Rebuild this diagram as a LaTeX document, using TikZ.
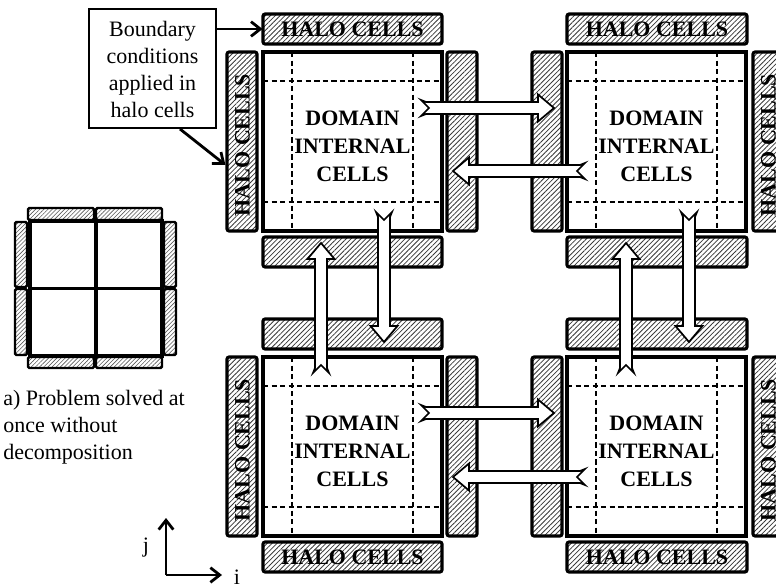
\documentclass[tikz,border=0pt]{standalone}
\usepackage{fontspec}
\setmainfont{Liberation Serif}
\usetikzlibrary{patterns.meta,arrows.meta,fit,calc}

\newcommand{\hblk}[4]{% tail, tip, cy, sign
  \draw[blk] (#1,{#3-8}) -- ({#1+(#4)*5},{#3-6}) -- ({#2-(#4)*16},{#3-6}) -- ({#2-(#4)*16},{#3-13.5}) -- (#2,#3)
     -- ({#2-(#4)*16},{#3+13.5}) -- ({#2-(#4)*16},{#3+6}) -- ({#1+(#4)*5},{#3+6}) -- (#1,{#3+8}) -- ({#1+(#4)*8},#3) -- cycle;}
\newcommand{\vblk}[4]{% tail, tip, cx, sign
  \draw[blk] ({#3-8},#1) -- ({#3-6},{#1+(#4)*5}) -- ({#3-6},{#2-(#4)*16}) -- ({#3-13.5},{#2-(#4)*16}) -- (#3,#2)
     -- ({#3+13.5},{#2-(#4)*16}) -- ({#3+6},{#2-(#4)*16}) -- ({#3+6},{#1+(#4)*5}) -- ({#3+8},#1) -- (#3,{#1+(#4)*8}) -- cycle;}
\newcommand{\domblk}[3]{% name, x, y
  \node[dombox, fit={(#2,#3) ({#2+179},{#3+179})}] (#1) {};
  \draw[dashline] ({#2+29},#3) -- ({#2+29},{#3+179});
  \draw[dashline] ({#2+150},#3) -- ({#2+150},{#3+179});
  \draw[dashline] (#2,{#3+29}) -- ({#2+179},{#3+29});
  \draw[dashline] (#2,{#3+150}) -- ({#2+179},{#3+150});
  \node[dombox, fit={(#2,#3) ({#2+179},{#3+179})}] {};
  \node[domtext] (#1t) at ({#2+89.5},{#3+94}) {DOMAIN\\INTERNAL\\CELLS};}

\begin{document}
\begin{tikzpicture}[x=0.75pt,y=-0.75pt,
  halobox/.style={draw, line width=2.3pt, rounded corners=1.5pt, inner sep=0pt,
    pattern={Lines[angle=45,distance=2.6pt,line width=0.6pt]}, pattern color=black!78},
  smallhalo/.style={draw, line width=1.8pt, rounded corners=1pt, inner sep=0pt,
    pattern={Lines[angle=45,distance=2.2pt,line width=0.45pt]}, pattern color=black!65},
  halotext/.style={font=\bfseries\fontsize{16.5}{18}\selectfont, inner sep=0pt},
  dombox/.style={draw, line width=2.3pt, inner sep=0pt},
  domtext/.style={font=\bfseries\fontsize{16.5}{21}\selectfont, align=center, inner sep=0pt},
  dashline/.style={line width=1.4pt, dash pattern=on 4pt off 2.4pt},
  blk/.style={draw, fill=white, line width=1.3pt, line join=miter},
  bodytext/.style={font=\fontsize{16.5}{20.25}\selectfont, inner sep=0pt},
  note/.style={draw, line width=1.5pt, inner sep=0pt},
  pointer/.style={line width=2.1pt, -{Straight Barb[length=7pt,width=11pt]}},
  gridline/.style={line width=2.4pt}
]
\useasboundingbox (0,0) rectangle (776,585);
\clip (0,0) rectangle (776,585);

% ---------- halos, top-left block
\node[halobox, fit={(263,14) (442,44)}] (hTLt) {};
\node[halotext] (hTLtT) at (352.5,29.5) {HALO CELLS};
\node[halobox, fit={(227,52) (257,231)}] (hTLl) {};
\node[halotext, rotate=90] (hTLlT) at (242.5,145) {HALO CELLS};
\node[halobox, fit={(447,52) (477,231)}] (hTLr) {};
\node[halobox, fit={(263,237) (442,267)}] (hTLb) {};
% top-right block
\node[halobox, fit={(567,14) (747,44)}] (hTRt) {};
\node[halotext] (hTRtT) at (657,29.5) {HALO CELLS};
\node[halobox, fit={(532,52) (562,231)}] (hTRl) {};
\node[halobox, fit={(753,52) (783,231)}] (hTRr) {};
\node[halotext, rotate=90] (hTRrT) at (768.5,145) {HALO CELLS};
\node[halobox, fit={(567,237) (747,267)}] (hTRb) {};
% bottom-left block
\node[halobox, fit={(263,319) (442,349)}] (hBLt) {};
\node[halobox, fit={(227,357) (257,536)}] (hBLl) {};
\node[halotext, rotate=90] (hBLlT) at (242.5,450) {HALO CELLS};
\node[halobox, fit={(447,357) (477,536)}] (hBLr) {};
\node[halobox, fit={(263,542) (442,572)}] (hBLb) {};
\node[halotext] (hBLbT) at (352.5,557.5) {HALO CELLS};
% bottom-right block
\node[halobox, fit={(567,319) (747,349)}] (hBRt) {};
\node[halobox, fit={(532,357) (562,536)}] (hBRl) {};
\node[halobox, fit={(753,357) (783,536)}] (hBRr) {};
\node[halotext, rotate=90] (hBRrT) at (768.5,450) {HALO CELLS};
\node[halobox, fit={(567,542) (747,572)}] (hBRb) {};
\node[halotext] (hBRbT) at (657,557.5) {HALO CELLS};

% ---------- domains
\domblk{dTL}{263}{52}
\domblk{dTR}{567}{52}
\domblk{dBL}{263}{357}
\domblk{dBR}{567}{357}

% ---------- exchange arrows
\hblk{421}{554}{108}{1}
\hblk{585}{453}{171}{-1}
\hblk{421}{554}{413}{1}
\hblk{585}{453}{477}{-1}
\vblk{373}{243}{321}{-1}
\vblk{212}{342}{384}{1}
\vblk{373}{243}{626}{-1}
\vblk{212}{342}{689}{1}

% ---------- note box
\node[note, fit={(89,9) (216,128)}] (note) {};
\node[bodytext, align=center] (noteT) at (152.5,69) {Boundary\\conditions\\applied in\\halo cells};
\draw[pointer] (note.east |- hTLt.west) -- (hTLt.west);
\draw[pointer] ($(note.south)+(27.5,0)$) -- ($(hTLl.west)+(0,23.5)$);

% ---------- small undecomposed problem
\node[smallhalo, fit={(28,208) (94,220)}] (s1) {};
\node[smallhalo, fit={(96,208) (162,220)}] (s2) {};
\node[smallhalo, fit={(15,222) (27,287)}] (s3) {};
\node[smallhalo, fit={(15,289) (27,355)}] (s4) {};
\node[smallhalo, fit={(164,222) (176,287)}] (s5) {};
\node[smallhalo, fit={(164,289) (176,355)}] (s6) {};
\node[smallhalo, fit={(28,357) (94,368)}] (s7) {};
\node[smallhalo, fit={(96,357) (162,368)}] (s8) {};
\node[draw, line width=2.8pt, inner sep=0pt, fit={(30,221) (162,356)}] (sgrid) {};
\draw[gridline] (sgrid.north) -- (sgrid.south);
\draw[gridline] (sgrid.west) -- (sgrid.east);
\node[bodytext, align=left, anchor=west] (caption) at (3,427) {a) Problem solved at\\once without\\decomposition};

% ---------- axes
\coordinate (orig) at (166,575);
\coordinate (jend) at (166,518);
\coordinate (iend) at (222,575);
\draw[pointer] (orig) -- (jend);
\draw[pointer] (orig) -- (iend);
\node[bodytext] (jlab) at (146,548) {j};
\node[bodytext] (ilab) at (237,577) {i};
\end{tikzpicture}
\end{document}
